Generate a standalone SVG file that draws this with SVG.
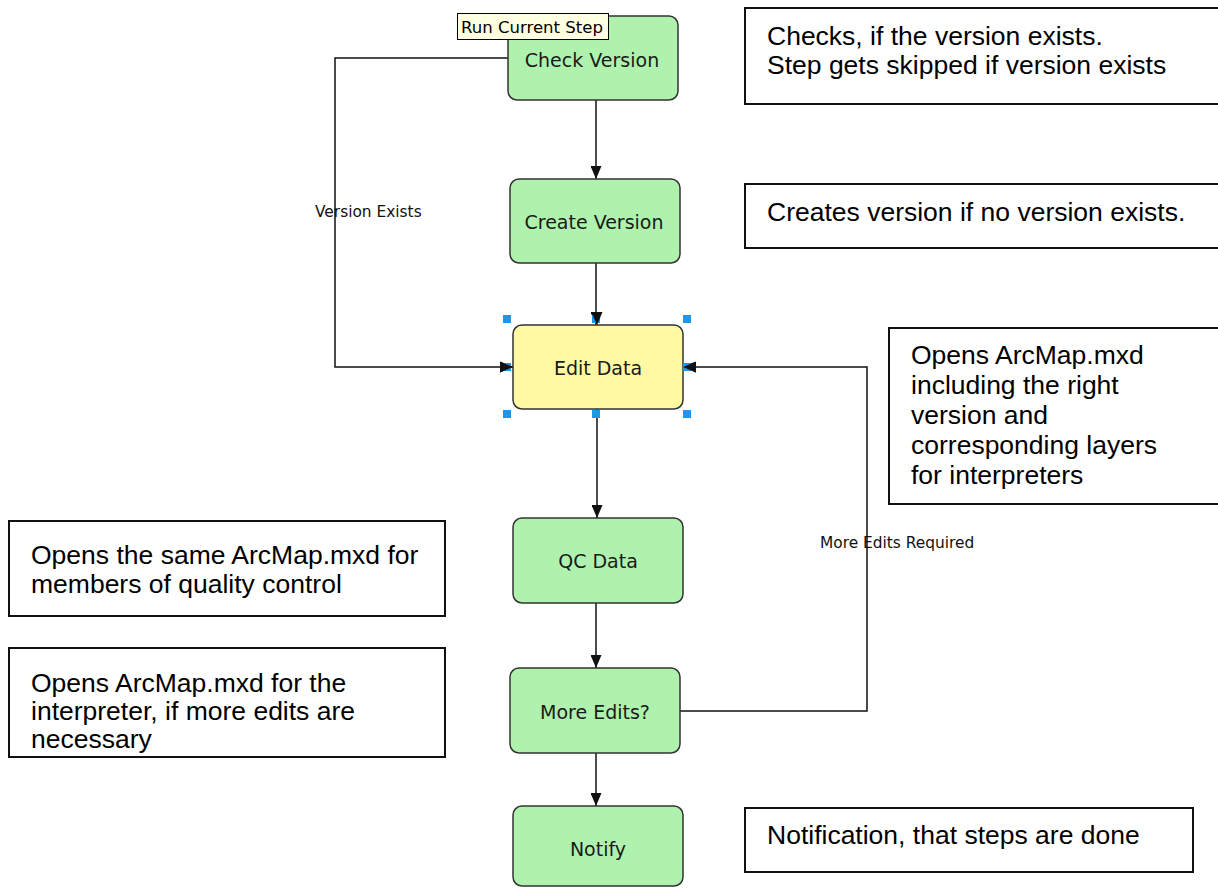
<svg xmlns="http://www.w3.org/2000/svg" width="1218" height="888" viewBox="0 0 1218 888">
<style>
.node{stroke:#333;stroke-width:1.5}
.green{fill:#aef2ae}
.yellow{fill:#fff9a3}
.nl{font-family:"DejaVu Sans",Verdana,sans-serif;font-size:19px;fill:#1a1a1a;text-anchor:middle}
.el{font-family:"DejaVu Sans",Verdana,sans-serif;font-size:15.4px;fill:#111}
.box{fill:#fff;stroke:#111;stroke-width:2}
.bt{font-family:"Liberation Sans",Arial,sans-serif;font-size:26.5px;fill:#000}
.conn{fill:none;stroke:#111;stroke-width:1.5}
.handle{fill:#1e96f0}
</style>
<defs>
<marker id="arr" markerUnits="userSpaceOnUse" markerWidth="13" markerHeight="11" viewBox="0 0 13 11" refX="13" refY="5.5" orient="auto">
<path d="M0,0 L13,5.5 L0,11 z" fill="#111"/>
</marker>
</defs>
<rect width="1218" height="888" fill="#fff"/>

<g id="note-check">
<rect class="box" x="745" y="8" width="480" height="96"/>
<text class="bt" x="767" y="45">Checks, if the version exists.</text>
<text class="bt" x="767" y="74">Step gets skipped if version exists</text>
</g>
<g id="note-create">
<rect class="box" x="745" y="184" width="480" height="64"/>
<text class="bt" x="767" y="221">Creates version if no version exists.</text>
</g>
<g id="note-edit">
<rect class="box" x="889" y="328" width="340" height="176"/>
<text class="bt" x="911" y="364">Opens ArcMap.mxd</text>
<text class="bt" x="911" y="394">including the right</text>
<text class="bt" x="911" y="424">version and</text>
<text class="bt" x="911" y="454">corresponding layers</text>
<text class="bt" x="911" y="484">for interpreters</text>
</g>
<g id="note-qc">
<rect class="box" x="9" y="521" width="436" height="95"/>
<text class="bt" x="31" y="564">Opens the same ArcMap.mxd for</text>
<text class="bt" x="31" y="593">members of quality control</text>
</g>
<g id="note-more">
<rect class="box" x="9" y="648" width="436" height="109"/>
<text class="bt" x="31" y="692">Opens ArcMap.mxd for the</text>
<text class="bt" x="31" y="720">interpreter, if more edits are</text>
<text class="bt" x="31" y="748">necessary</text>
</g>
<g id="note-notify">
<rect class="box" x="745" y="808" width="448" height="64"/>
<text class="bt" x="767" y="844">Notification, that steps are done</text>
</g>

<g id="connectors">
<path class="conn" d="M596,100 V179" marker-end="url(#arr)"/>
<path class="conn" d="M596,263 V325" marker-end="url(#arr)"/>
<path class="conn" d="M597,409 V518" marker-end="url(#arr)"/>
<path class="conn" d="M596,603 V668" marker-end="url(#arr)"/>
<path class="conn" d="M596,753 V806" marker-end="url(#arr)"/>
<path class="conn" d="M508,58 H335 V367 H513" marker-end="url(#arr)"/>
<path class="conn" d="M680,711 H867 V367 H683" marker-end="url(#arr)"/>
<text class="el" x="315" y="217">Version Exists</text>
<text class="el" x="820" y="548">More Edits Required</text>
</g>

<g id="node-check">
<rect class="node green" x="508" y="16" width="170" height="84" rx="9"/>
<text class="nl" x="592" y="67">Check Version</text>
</g>
<g id="node-create">
<rect class="node green" x="510" y="179" width="170" height="84" rx="9"/>
<text class="nl" x="594" y="229">Create Version</text>
</g>
<g id="node-edit">
<rect class="node yellow" x="513" y="325" width="170" height="84" rx="9"/>
<text class="nl" x="598" y="375">Edit Data</text>
<rect class="handle" x="503" y="315" width="8" height="8"/>
<rect class="handle" x="592" y="315" width="8" height="8"/>
<rect class="handle" x="683" y="315" width="8" height="8"/>
<rect class="handle" x="503" y="363" width="8" height="8"/>
<rect class="handle" x="683" y="363" width="8" height="8"/>
<rect class="handle" x="503" y="410" width="8" height="8"/>
<rect class="handle" x="592" y="410" width="8" height="8"/>
<rect class="handle" x="683" y="410" width="8" height="8"/>
<path d="M500,361.5 L513,367 L500,372.5 z" fill="#111"/>
<path d="M696,361.5 L683,367 L696,372.5 z" fill="#111"/>
<path d="M591.5,312 L597,325 L602.5,312 z" fill="#111"/>
</g>
<g id="node-qc">
<rect class="node green" x="513" y="518" width="170" height="85" rx="9"/>
<text class="nl" x="598" y="568">QC Data</text>
</g>
<g id="node-more">
<rect class="node green" x="510" y="668" width="170" height="85" rx="9"/>
<text class="nl" x="595" y="719">More Edits?</text>
</g>
<g id="node-notify">
<rect class="node green" x="513" y="806" width="170" height="80" rx="9"/>
<text class="nl" x="598" y="856">Notify</text>
</g>

<g id="tooltip">
<rect x="457.5" y="13.5" width="151" height="26" fill="#ffffe1" stroke="#000" stroke-width="1"/>
<text x="461" y="33" font-family="DejaVu Sans, Verdana, sans-serif" font-size="16" fill="#000" textLength="142" lengthAdjust="spacingAndGlyphs">Run Current Step</text>
</g>
</svg>
